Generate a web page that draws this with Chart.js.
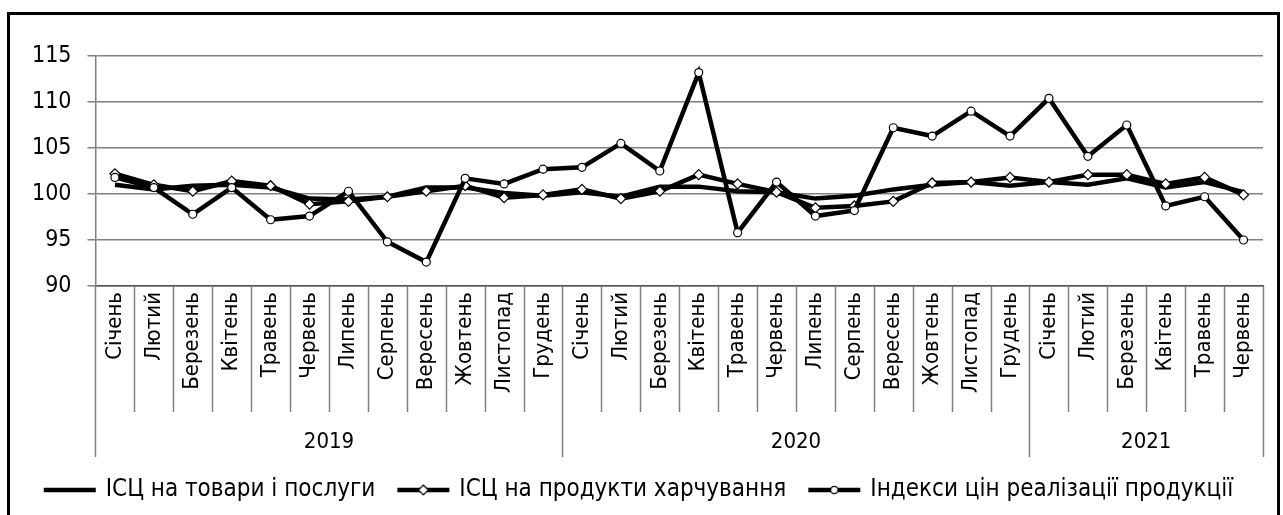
<!DOCTYPE html>
<html>
<head>
<meta charset="utf-8">
<script src="https://cdn.jsdelivr.net/npm/chart.js@4.4.1/dist/chart.umd.min.js"></script>
<style>
  body { margin: 0; background: #fff; }
</style>
</head>
<body>
<canvas id="myChart" width="1283" height="515"></canvas>
<script>
// month names on the axis, grouped by year
const monthNames = ['Січень', 'Лютий', 'Березень', 'Квітень', 'Травень', 'Червень',
    'Липень', 'Серпень', 'Вересень', 'Жовтень', 'Листопад', 'Грудень'];
const years = ['2019', '2020', '2021'];
const yearLengths = [12, 12, 6];

// series values
const cpiAll = [101.0, 100.5, 100.9, 101.0, 100.7, 99.5, 99.4, 99.7, 100.7, 100.7, 100.1, 99.8,
    100.2, 99.7, 100.8, 100.8, 100.3, 100.2, 99.5, 99.8, 100.5, 101.0, 101.3, 100.9,
    101.3, 101.0, 101.7, 100.7, 101.3, 100.2];
const cpiFood = [102.2, 101.0, 100.3, 101.4, 100.9, 98.9, 99.2, 99.7, 100.3, 100.9, 99.6, 99.9,
    100.5, 99.5, 100.3, 102.1, 101.1, 100.2, 98.5, 98.7, 99.2, 101.2, 101.3, 101.8,
    101.3, 102.1, 102.1, 101.1, 101.8, 99.9];
const ppi = [101.8, 100.7, 97.8, 100.7, 97.2, 97.6, 100.3, 94.8, 92.6, 101.7, 101.1, 102.7,
    102.9, 105.5, 102.5, 113.2, 95.8, 101.3, 97.6, 98.2, 107.2, 106.3, 109.0, 106.3,
    110.4, 104.1, 107.5, 98.7, 99.7, 95.0];

const seriesNames = ['ІСЦ на товари і послуги', 'ІСЦ на продукти харчування', 'Індекси цін реалізації продукції'];

const labels = [];
yearLengths.forEach(n => { for (let i = 0; i < n; i++) labels.push(monthNames[i]); });

const FONT = '"DejaVu Sans Condensed", "DejaVu Sans", sans-serif';

// legend sample: thick line with the marker in the middle
function legendIcon(marker) {
    const c = document.createElement('canvas');
    c.width = 54; c.height = 14;
    const g = c.getContext('2d');
    g.strokeStyle = '#000';
    g.lineWidth = 4.5;
    g.beginPath(); g.moveTo(1, 7); g.lineTo(53, 7); g.stroke();
    g.lineWidth = 1.2;
    g.fillStyle = '#fff';
    if (marker == 'diamond') {
        g.beginPath(); g.moveTo(27, 2); g.lineTo(32, 7); g.lineTo(27, 12); g.lineTo(22, 7); g.closePath();
        g.fill(); g.stroke();
    } else if (marker == 'circle') {
        g.beginPath(); g.arc(27, 7, 3.6, 0, Math.PI * 2);
        g.fill(); g.stroke();
    }
    return c;
}
const icons = [legendIcon('none'), legendIcon('diamond'), legendIcon('circle')];

// month/year separators, year labels and the outer frame
const axisDecor = {
    id: 'axisDecor',
    afterDraw(chart) {
        const ctx = chart.ctx;
        const x = chart.scales.x;
        const w = (x.right - x.left) / labels.length;
        const top = x.top;
        ctx.save();
        ctx.strokeStyle = '#808080';
        ctx.lineWidth = 1.5;
        const yearBounds = [0];
        yearLengths.reduce((a, n) => { yearBounds.push(a + n); return a + n; }, 0);
        for (let i = 0; i <= labels.length; i++) {
            const px = Math.round(x.left + w * i) + 0.5;
            const long = yearBounds.includes(i);
            ctx.beginPath();
            ctx.moveTo(px, top);
            ctx.lineTo(px, long ? top + 171 : top + 126);
            ctx.stroke();
        }
        ctx.fillStyle = '#000';
        ctx.font = '22px ' + FONT;
        ctx.textAlign = 'center';
        ctx.textBaseline = 'middle';
        years.forEach((yr, k) => {
            const cx = x.left + w * (yearBounds[k] + yearBounds[k + 1]) / 2;
            ctx.fillText(yr, cx, top + 156);
        });
        ctx.strokeStyle = '#000';
        ctx.lineWidth = 3;
        ctx.strokeRect(8.5, 13.5, 1270, 600);
        ctx.restore();
    }
};

const ctx = document.getElementById('myChart').getContext('2d');
const myChart = new Chart(ctx, {
    type: 'line',
    data: {
        labels: labels,
        datasets: [{
            label: seriesNames[0],
            data: cpiAll,
            borderColor: '#000',
            borderWidth: 4.5,
            pointRadius: 0,
            order: 2
        }, {
            label: seriesNames[1],
            data: cpiFood,
            borderColor: '#000',
            borderWidth: 4.5,
            pointStyle: 'rectRot',
            pointRadius: 5,
            pointBackgroundColor: '#fff',
            pointBorderColor: '#000',
            pointBorderWidth: 1.2,
            order: 1
        }, {
            label: seriesNames[2],
            data: ppi,
            borderColor: '#000',
            borderWidth: 4.5,
            pointStyle: 'circle',
            pointRadius: 4,
            pointBackgroundColor: '#fff',
            pointBorderColor: '#000',
            pointBorderWidth: 1.2,
            order: 0
        }]
    },
    options: {
        responsive: false,
        animation: false,
        layout: { padding: { left: 16, right: 20, top: 56, bottom: 3 } },
        scales: {
            x: {
                offset: true,
                grid: { display: false, drawTicks: false },
                border: { display: true, color: '#555', width: 1.5 },
                ticks: {
                    color: '#000',
                    font: { family: FONT, size: 22 },
                    minRotation: 90, maxRotation: 90,
                    autoSkip: false,
                    padding: 6
                },
                afterFit(scale) { scale.height = 168; }
            },
            y: {
                min: 90, max: 115,
                grid: { color: '#808080', lineWidth: 1.5, tickLength: 8 },
                border: { color: '#808080', width: 1.5 },
                ticks: {
                    stepSize: 5,
                    color: '#000',
                    font: { family: FONT, size: 23 },
                    padding: 16
                }
            }
        },
        plugins: {
            legend: {
                position: 'bottom',
                labels: {
                    color: '#000',
                    font: { family: FONT, size: 24 },
                    usePointStyle: true,
                    pointStyleWidth: 48,
                    padding: 24,
                    generateLabels(chart) {
                        return chart.data.datasets.map((ds, i) => ({
                            text: ds.label,
                            pointStyle: icons[i],
                            fillStyle: '#000',
                            strokeStyle: '#000',
                            lineWidth: 0,
                            fontColor: '#000',
                            datasetIndex: i,
                            hidden: false
                        }));
                    }
                }
            },
            tooltip: { enabled: false }
        }
    },
    plugins: [axisDecor]
});
</script>
</body>
</html>
